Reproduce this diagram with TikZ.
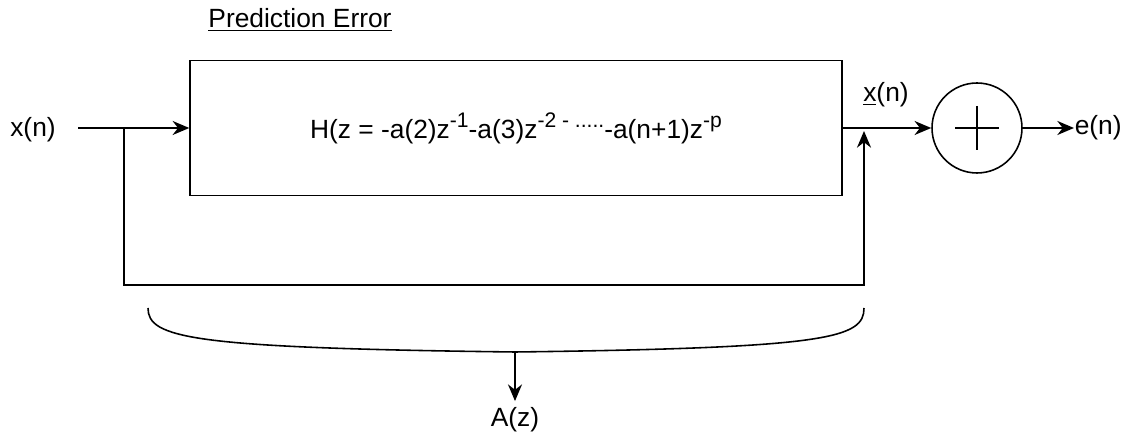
\documentclass[tikz,border=0pt]{standalone}
\usepackage{fontspec}
\setmainfont{Liberation Sans}
\usetikzlibrary{arrows.meta,positioning}
\newcommand\upidx[1]{\raisebox{0.42em}{\fontsize{12}{12}\selectfont #1}}

\begin{document}
\begin{tikzpicture}[x=0.02cm,y=-0.02cm,line width=0.9pt,
  >={Stealth[length=9.5pt,width=8pt]},
  font=\fontsize{15}{18}\selectfont,
  lbl/.style={inner sep=1pt}]
\useasboundingbox (0,0) rectangle (1140,438);
\node[lbl] (title) at (300,20) {\underline{Prediction Error}};
\node[draw,minimum width=13.04cm,minimum height=2.7cm,inner sep=0] (filt) at (516,128)
  {H(z = -a(2)z\upidx{-1}-a(3)z\upidx{-2 - .....}-a(n+1)z\upidx{-p}};
\node[lbl] (xn) at (33,130) {x(n)};
\coordinate (in) at (78,128);
\coordinate (br) at (124,128);
\draw[->] (in) -- (filt.west);
\node[draw,circle,minimum size=1.8cm,inner sep=0] (sum) at (977,128) {};
\draw (sum.center) ++(-22,0) -- ++(44,0) (sum.center) ++(0,-22) -- ++(0,44);
\draw[->] (filt.east) -- (sum.west);
\node[anchor=west,inner sep=0] (en) at (1074,128) {e(n)};
\draw[->] (sum.east) -- (en.west);
\node[lbl] (xp) at (886,95) {\underline{x}(n)};
\coordinate (tap) at (864,131);
\coordinate (fb) at (864,285);
\draw[->] (br) |- (fb) -- (tap);
\coordinate (bl) at (148,308);
\coordinate (brr) at (864,308);
\coordinate (bmid) at (515,352);
\draw (bl) .. controls (148,338) and (190,348) .. (bmid) .. controls (830,348) and (864,338) .. (brr);
\node (az) at (515,420) {A(z)};
\draw[->] (bmid) -- (az.north);
\end{tikzpicture}
\end{document}
